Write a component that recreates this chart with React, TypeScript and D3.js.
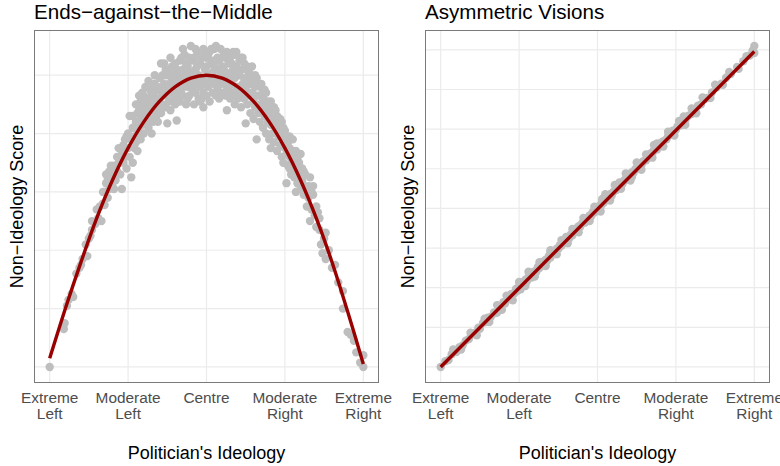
import React, { useEffect, useRef } from "react";
import * as d3 from "d3";

// ideology ticks shared by both panels
const tickValues = [-1, -0.5, 0, 0.5, 1];
const tickLabels = [
  ["Extreme", "Left"],
  ["Moderate", "Left"],
  ["Centre"],
  ["Moderate", "Right"],
  ["Extreme", "Right"],
];

// Ends-against-the-Middle: politicians (ideology, non-ideology score)
const eamPoints: [number, number][] = [
  [-1.0, 0.0], [-0.91, 0.13], [-0.905, 0.15], [-0.89, 0.21], [-0.88, 0.23], [-0.86, 0.25], [-0.85, 0.24],
  [-0.83, 0.32], [-0.81, 0.34], [-0.8, 0.35], [-0.79, 0.37], [-0.77, 0.42], [-0.76, 0.38], [-0.75, 0.44],
  [-0.74, 0.45], [-0.73, 0.47], [-0.73, 0.5], [-0.71, 0.49], [-0.7, 0.54], [-0.69, 0.51], [-0.67, 0.5],
  [-0.66, 0.56], [-0.65, 0.555], [-0.65, 0.6], [-0.64, 0.63], [-0.63, 0.58], [-0.62, 0.67], [-0.62, 0.61],
  [-0.61, 0.64], [-0.6, 0.62], [-0.6, 0.66], [-0.59, 0.69], [-0.58, 0.64], [-0.57, 0.72], [-0.57, 0.67],
  [-0.56, 0.7], [-0.55, 0.66], [-0.54, 0.61], [-0.54, 0.74], [-0.53, 0.7], [-0.52, 0.78], [-0.52, 0.72],
  [-0.51, 0.68], [-0.5, 0.75], [-0.5, 0.8], [-0.49, 0.86], [-0.49, 0.72], [-0.48, 0.65], [-0.48, 0.78],
  [-0.47, 0.82], [-0.46, 0.75], [-0.46, 0.79], [-0.45, 0.84], [-0.45, 0.77], [-0.44, 0.8], [-0.43, 0.88],
  [-0.43, 0.82], [-0.42, 0.78], [-0.42, 0.85], [-0.41, 0.94], [-0.41, 0.83], [-0.4, 0.87], [-0.4, 0.8],
  [-0.39, 0.9], [-0.39, 0.84], [-0.38, 0.86], [-0.38, 0.92], [-0.37, 0.82], [-0.37, 0.88], [-0.36, 0.95],
  [-0.36, 0.85], [-0.35, 0.9], [-0.35, 0.87], [-0.34, 0.93], [-0.34, 0.84], [-0.33, 0.97], [-0.33, 0.89],
  [-0.32, 0.91], [-0.32, 0.86], [-0.31, 0.95], [-0.31, 0.88], [-0.3, 0.92], [-0.3, 0.99], [-0.29, 1.04],
  [-0.29, 0.87], [-0.28, 0.94], [-0.28, 0.9], [-0.27, 0.97], [-0.27, 1.0], [-0.26, 0.89], [-0.26, 0.93],
  [-0.25, 0.835], [-0.25, 0.96], [-0.24, 1.01], [-0.24, 0.91], [-0.23, 0.95], [-0.23, 0.88], [-0.22, 0.98],
  [-0.22, 1.03], [-0.21, 0.92], [-0.21, 0.96], [-0.2, 0.99], [-0.2, 0.9], [-0.19, 0.845], [-0.19, 1.02],
  [-0.18, 0.94], [-0.18, 0.97], [-0.17, 1.05], [-0.17, 0.91], [-0.16, 0.99], [-0.16, 0.95], [-0.15, 1.02],
  [-0.15, 0.93], [-0.14, 0.97], [-0.14, 1.07], [-0.13, 0.9], [-0.13, 1.0], [-0.12, 0.96], [-0.12, 1.03],
  [-0.11, 0.93], [-0.11, 0.99], [-0.1, 1.1], [-0.1, 1.01], [-0.09, 0.95], [-0.09, 1.05], [-0.08, 0.9],
  [-0.08, 0.98], [-0.07, 1.02], [-0.07, 0.94], [-0.06, 1.08], [-0.06, 0.97], [-0.05, 1.0], [-0.05, 0.92],
  [-0.04, 1.04], [-0.04, 0.96], [-0.03, 0.99], [-0.03, 1.06], [-0.02, 0.89], [-0.02, 0.94], [-0.01, 1.02],
  [-0.01, 0.97], [0.0, 1.03], [0.0, 0.99], [0.0, 0.93],
  [0.01, 1.07], [0.01, 0.96], [0.02, 1.0], [0.02, 0.91], [0.03, 1.04], [0.03, 0.98], [0.04, 0.94],
  [0.04, 1.01], [0.05, 1.09], [0.05, 0.97], [0.06, 1.1], [0.06, 1.02], [0.07, 0.95], [0.07, 0.99],
  [0.08, 1.05], [0.08, 0.92], [0.09, 1.0], [0.09, 0.97], [0.1, 1.03], [0.1, 0.94], [0.11, 1.07],
  [0.11, 0.98], [0.12, 0.93], [0.12, 1.01], [0.13, 0.88], [0.13, 0.96], [0.14, 1.04], [0.14, 0.99],
  [0.15, 0.92], [0.15, 1.06], [0.16, 0.97], [0.16, 1.01], [0.17, 1.08], [0.17, 0.94], [0.18, 0.99],
  [0.18, 0.9], [0.19, 1.08], [0.19, 1.03], [0.2, 0.96], [0.2, 0.92], [0.21, 1.0], [0.21, 1.05],
  [0.22, 0.94], [0.22, 0.89], [0.23, 1.02], [0.23, 0.97], [0.24, 0.92], [0.24, 1.04], [0.25, 0.835],
  [0.25, 0.95], [0.26, 0.99], [0.26, 0.9], [0.27, 1.01], [0.27, 0.93], [0.28, 0.87], [0.28, 0.97],
  [0.29, 0.94], [0.29, 0.99], [0.3, 0.91], [0.3, 0.85], [0.31, 0.96], [0.31, 0.89], [0.32, 0.78],
  [0.32, 0.93], [0.33, 0.87], [0.33, 0.97], [0.34, 0.9], [0.34, 0.84], [0.35, 0.93], [0.35, 0.88],
  [0.36, 0.95], [0.36, 0.82], [0.37, 0.86], [0.37, 0.9], [0.38, 0.8], [0.38, 0.88], [0.39, 0.84],
  [0.39, 0.91], [0.4, 0.78], [0.4, 0.86], [0.41, 0.75], [0.41, 0.83], [0.42, 0.88], [0.42, 0.8],
  [0.43, 0.89], [0.43, 0.77], [0.44, 0.84], [0.44, 0.81], [0.45, 0.74], [0.45, 0.86], [0.46, 0.79],
  [0.46, 0.83], [0.47, 0.76], [0.47, 0.81], [0.48, 0.72], [0.48, 0.84], [0.49, 0.7], [0.49, 0.78],
  [0.5, 0.75], [0.5, 0.81], [0.51, 0.63], [0.51, 0.73], [0.52, 0.77], [0.52, 0.69], [0.53, 0.72],
  [0.53, 0.75], [0.54, 0.66], [0.54, 0.7], [0.55, 0.78], [0.55, 0.68], [0.56, 0.72], [0.56, 0.65],
  [0.57, 0.6], [0.57, 0.69], [0.58, 0.71], [0.58, 0.63], [0.59, 0.66], [0.6, 0.73], [0.6, 0.61],
  [0.61, 0.64], [0.62, 0.59], [0.62, 0.67], [0.63, 0.62], [0.64, 0.55], [0.64, 0.6], [0.65, 0.58],
  [0.66, 0.5], [0.66, 0.65], [0.67, 0.54], [0.68, 0.59], [0.68, 0.62], [0.69, 0.52], [0.7, 0.48],
  [0.71, 0.53], [0.72, 0.47], [0.73, 0.42], [0.74, 0.39], [0.75, 0.44], [0.76, 0.37], [0.76, 0.46],
  [0.78, 0.4], [0.8, 0.34], [0.82, 0.35], [0.84, 0.29], [0.87, 0.26], [0.87, 0.2], [0.9, 0.12],
  [0.92, 0.11], [0.94, 0.09], [0.955, 0.05], [0.98, 0.015], [1.0, 0.04], [1.0, 0.0],
  // denser core
  [-0.44, 0.87], [-0.42, 0.91], [-0.4, 0.93], [-0.38, 0.83], [-0.36, 0.91], [-0.34, 0.97], [-0.32, 0.95],
  [-0.3, 0.89], [-0.28, 1.0], [-0.26, 1.02], [-0.24, 0.97], [-0.22, 0.94], [-0.2, 1.04], [-0.18, 1.01],
  [-0.16, 1.06], [-0.14, 1.01], [-0.12, 0.92], [-0.1, 0.97], [-0.08, 1.06], [-0.06, 1.03], [-0.04, 0.91],
  [-0.02, 1.09], [0.0, 1.06], [0.02, 1.08], [0.04, 1.05], [0.06, 0.93], [0.08, 1.02], [0.1, 0.99],
  [0.12, 1.06], [0.14, 0.95], [0.16, 1.04], [0.18, 1.07], [0.2, 1.01], [0.22, 1.06], [0.24, 0.99],
  [0.26, 1.03], [0.28, 1.0], [0.3, 0.97], [0.32, 0.99], [0.34, 0.96], [0.36, 0.92], [0.38, 0.94],
  [0.4, 0.9], [0.42, 0.85], [0.44, 0.88], [-0.47, 0.7], [-0.44, 0.74], [-0.55, 0.72], [-0.58, 0.67],
  [0.58, 0.67], [0.53, 0.79], [0.48, 0.8], [-0.35, 0.8], [-0.31, 0.84],
  [-0.64, 0.66], [-0.61, 0.69], [-0.59, 0.61], [-0.56, 0.75], [-0.53, 0.76], [-0.51, 0.79], [-0.47, 0.86],
  [-0.45, 0.9], [-0.43, 0.93], [-0.41, 0.89], [-0.39, 0.96], [-0.37, 0.98], [-0.35, 0.94], [-0.33, 1.0],
  [-0.31, 0.92], [-0.29, 0.96], [-0.27, 1.04], [-0.25, 1.0], [-0.23, 1.06], [-0.21, 1.0], [-0.19, 0.93],
  [-0.17, 0.98], [-0.15, 1.09], [-0.13, 1.04], [-0.11, 1.06], [-0.09, 1.0], [-0.07, 1.09], [-0.05, 1.04],
  [-0.03, 0.92], [-0.01, 1.07], [0.01, 1.0], [0.03, 1.09], [0.05, 1.03], [0.07, 1.06], [0.09, 1.09],
  [0.11, 1.02], [0.13, 1.08], [0.15, 0.99], [0.17, 1.02], [0.19, 0.96], [0.21, 0.93], [0.23, 1.06],
  [0.25, 1.02], [0.27, 0.97], [0.29, 1.03], [0.31, 1.0], [0.33, 0.93], [0.35, 0.97], [0.37, 0.95],
  [0.39, 0.87], [0.41, 0.91], [0.43, 0.84], [0.45, 0.82], [0.47, 0.85], [0.49, 0.82], [0.51, 0.78],
  [0.53, 0.68], [0.55, 0.74], [0.57, 0.74], [0.59, 0.7], [0.61, 0.68], [0.63, 0.66], [0.65, 0.62],
  [0.67, 0.6], [-0.66, 0.6], [-0.68, 0.55], [-0.63, 0.64], [0.7, 0.55], [0.72, 0.51],
];

// smoothed fit
const eamFitX = [-1, -0.9, -0.8, -0.7, -0.6, -0.5, -0.4, -0.3, -0.2, -0.1, 0, 0.1, 0.2, 0.3, 0.4, 0.5, 0.6, 0.7, 0.8, 0.9, 1];
const eamFitY = [0.03, 0.2, 0.36, 0.51, 0.64, 0.75, 0.84, 0.91, 0.96, 0.99, 1.0, 0.99, 0.96, 0.91, 0.84, 0.75, 0.64, 0.51, 0.36, 0.19, 0.01];
const eamGridY = [0, 0.2, 0.4, 0.6, 0.8, 1.0];

// Asymmetric Visions
const avPoints: [number, number][] = [
  [-1.0, 0.0], [-0.97, 0.018], [-0.95, 0.022], [-0.93, 0.04], [-0.9, 0.047], [-0.88, 0.062], [-0.86, 0.068],
  [-0.84, 0.083], [-0.82, 0.088], [-0.8, 0.103], [-0.78, 0.108], [-0.76, 0.124], [-0.75, 0.12], [-0.73, 0.139],
  [-0.71, 0.142], [-0.7, 0.155], [-0.68, 0.158], [-0.66, 0.172], [-0.65, 0.17], [-0.63, 0.19], [-0.62, 0.186],
  [-0.6, 0.204], [-0.59, 0.2], [-0.57, 0.221], [-0.56, 0.214], [-0.55, 0.23], [-0.53, 0.232], [-0.52, 0.246],
  [-0.51, 0.24], [-0.5, 0.254], [-0.49, 0.262], [-0.48, 0.255], [-0.47, 0.268], [-0.46, 0.275], [-0.45, 0.27],
  [-0.44, 0.284], [-0.43, 0.29], [-0.42, 0.282], [-0.41, 0.298], [-0.4, 0.302], [-0.39, 0.3], [-0.38, 0.315],
  [-0.37, 0.312], [-0.36, 0.325], [-0.35, 0.32], [-0.34, 0.334], [-0.33, 0.338], [-0.32, 0.336], [-0.31, 0.35],
  [-0.3, 0.345], [-0.29, 0.358], [-0.28, 0.364], [-0.27, 0.362], [-0.26, 0.373], [-0.25, 0.372], [-0.24, 0.384],
  [-0.23, 0.382], [-0.22, 0.393], [-0.21, 0.398], [-0.2, 0.396], [-0.19, 0.41], [-0.18, 0.406], [-0.17, 0.418],
  [-0.16, 0.415], [-0.15, 0.43], [-0.14, 0.428], [-0.13, 0.438], [-0.12, 0.444], [-0.11, 0.442], [-0.1, 0.452],
  [-0.09, 0.458], [-0.08, 0.455], [-0.07, 0.468], [-0.06, 0.466], [-0.05, 0.478], [-0.04, 0.476], [-0.03, 0.489],
  [-0.02, 0.487], [-0.01, 0.498], [0.0, 0.5], [0.01, 0.508], [0.02, 0.505], [0.03, 0.52], [0.04, 0.518],
  [0.05, 0.528], [0.06, 0.532], [0.07, 0.531], [0.08, 0.545], [0.09, 0.54], [0.1, 0.552], [0.11, 0.556],
  [0.12, 0.558], [0.13, 0.568], [0.14, 0.566], [0.15, 0.58], [0.16, 0.578], [0.17, 0.588], [0.18, 0.594],
  [0.19, 0.592], [0.2, 0.603], [0.21, 0.602], [0.22, 0.614], [0.23, 0.612], [0.24, 0.623], [0.25, 0.628],
  [0.26, 0.626], [0.27, 0.638], [0.28, 0.636], [0.29, 0.648], [0.3, 0.65], [0.31, 0.652], [0.32, 0.665],
  [0.33, 0.662], [0.34, 0.674], [0.35, 0.672], [0.36, 0.684], [0.37, 0.688], [0.38, 0.686], [0.39, 0.698],
  [0.4, 0.696], [0.41, 0.708], [0.42, 0.712], [0.44, 0.718], [0.45, 0.728], [0.47, 0.732], [0.48, 0.745],
  [0.5, 0.748], [0.51, 0.758], [0.53, 0.762], [0.54, 0.775], [0.56, 0.778], [0.58, 0.792], [0.6, 0.798],
  [0.62, 0.808], [0.64, 0.824], [0.66, 0.828], [0.68, 0.844], [0.7, 0.848], [0.73, 0.866], [0.76, 0.882],
  [0.79, 0.893], [0.82, 0.912], [0.85, 0.924], [0.89, 0.946], [0.93, 0.964], [0.97, 0.982], [0.99, 0.998],
  [1.0, 0.99], [1.0, 1.012],
  [-0.49, 0.245], [-0.3, 0.362], [0.03, 0.53], [0.14, 0.582], [0.36, 0.7], [0.55, 0.79], [-0.64, 0.172],
  [-0.2, 0.41], [0.22, 0.6], [0.46, 0.74],
  [-0.92, 0.055], [-0.87, 0.055], [-0.81, 0.108], [-0.77, 0.1], [-0.72, 0.152], [-0.69, 0.142], [-0.64, 0.195],
  [-0.61, 0.18], [-0.58, 0.225], [-0.54, 0.21], [-0.5, 0.268], [-0.46, 0.255], [-0.44, 0.3], [-0.4, 0.285],
  [-0.37, 0.33], [-0.33, 0.318], [-0.3, 0.368], [-0.26, 0.355], [-0.23, 0.4], [-0.19, 0.39], [-0.16, 0.435],
  [-0.12, 0.425], [-0.09, 0.47], [-0.05, 0.46], [-0.02, 0.505], [0.02, 0.49], [0.05, 0.545], [0.08, 0.525],
  [0.11, 0.574], [0.15, 0.562], [0.18, 0.61], [0.21, 0.588], [0.25, 0.645], [0.28, 0.622], [0.31, 0.67],
  [0.35, 0.66], [0.38, 0.705], [0.42, 0.695], [0.45, 0.742], [0.49, 0.73], [0.52, 0.776], [0.56, 0.764],
  [0.6, 0.815], [0.63, 0.8], [0.67, 0.85], [0.72, 0.848], [0.75, 0.89], [0.8, 0.89], [0.84, 0.93],
  [0.9, 0.94], [0.95, 0.98],
];
const avFitX = [-1, 1];
const avFitY = [0.0, 0.995];
const avGridY = [0, 0.125, 0.25, 0.375, 0.5, 0.625, 0.75, 0.875, 1.0];

const W = 780;
const H = 466;
const FONT = "'Liberation Sans', Arial, sans-serif";

const drawPanel = (
  root: d3.Selection<SVGGElement, unknown, null, undefined>,
  left: number,
  title: string,
  points: [number, number][],
  fitX: number[],
  fitY: number[],
  gridY: number[]
) => {
  const top = 30;
  const bottom = 383;
  const pw = 345;

  const xExt = d3.extent(points, (d) => d[0]) as [number, number];
  const yExt = d3.extent(points, (d) => d[1]) as [number, number];
  const xPad = (xExt[1] - xExt[0]) * 0.05;
  const yPad = (yExt[1] - yExt[0]) * 0.05;
  const x = d3.scaleLinear().domain([xExt[0] - xPad, xExt[1] + xPad]).range([left, left + pw]);
  const y = d3.scaleLinear().domain([yExt[0] - yPad, yExt[1] + yPad]).range([bottom, top]);

  const g = root.append("g");

  // grid
  g.selectAll(".gx")
    .data(tickValues)
    .enter()
    .append("line")
    .attr("x1", (d) => x(d))
    .attr("x2", (d) => x(d))
    .attr("y1", top)
    .attr("y2", bottom)
    .attr("stroke", "#ebebeb")
    .attr("stroke-width", 1.2);
  g.selectAll(".gy")
    .data(gridY)
    .enter()
    .append("line")
    .attr("x1", left)
    .attr("x2", left + pw)
    .attr("y1", (d) => y(d))
    .attr("y2", (d) => y(d))
    .attr("stroke", "#ebebeb")
    .attr("stroke-width", 1.2);

  // points
  g.selectAll("circle")
    .data(points)
    .enter()
    .append("circle")
    .attr("cx", (d) => x(d[0]))
    .attr("cy", (d) => y(d[1]))
    .attr("r", 4.2)
    .attr("fill", "#bebebe");

  // fitted line
  const line = d3
    .line<number>()
    .x((d, i) => x(fitX[i]))
    .y((d) => y(d))
    .curve(d3.curveCatmullRom);
  g.append("path")
    .attr("d", line(fitY))
    .attr("fill", "none")
    .attr("stroke", "#990000")
    .attr("stroke-width", 3.4);

  // border
  g.append("rect")
    .attr("x", left + 0.5)
    .attr("y", top + 0.5)
    .attr("width", pw - 1)
    .attr("height", bottom - top - 1)
    .attr("fill", "none")
    .attr("stroke", "#7a7a7a")
    .attr("stroke-width", 1);

  // tick labels
  const tl = g
    .selectAll(".tl")
    .data(tickValues)
    .enter()
    .append("text")
    .attr("text-anchor", "middle")
    .style("font-family", FONT)
    .style("font-size", "15.4px")
    .attr("fill", "#4d4d4d");
  tl.each(function (d, i) {
    const t = d3.select(this);
    tickLabels[i].forEach((s, k) => {
      t.append("tspan")
        .attr("x", x(d))
        .attr("y", 403 + k * 15.5)
        .text(s);
    });
  });

  // axis titles
  g.append("text")
    .attr("x", left + pw / 2)
    .attr("y", 459)
    .attr("text-anchor", "middle")
    .style("font-family", FONT)
    .style("font-size", "18px")
    .attr("fill", "#000")
    .text("Politician's Ideology");

  g.append("text")
    .attr("transform", `translate(${left - 11},${(top + bottom) / 2}) rotate(-90)`)
    .attr("text-anchor", "middle")
    .style("font-family", FONT)
    .style("font-size", "18px")
    .attr("fill", "#000")
    .text("Non\u2212Ideology Score");

  g.append("text")
    .attr("x", left)
    .attr("y", 18.7)
    .style("font-family", FONT)
    .style("font-size", "20.6px")
    .attr("fill", "#000")
    .text(title);
};

const App = () => {
  const ref = useRef<SVGSVGElement>(null);

  useEffect(() => {
    const svg = d3.select(ref.current);
    svg.selectAll("*").remove();
    const root = svg.append("g");
    drawPanel(root, 34, "Ends\u2212against\u2212the\u2212Middle", eamPoints, eamFitX, eamFitY, eamGridY);
    drawPanel(root, 425, "Asymmetric Visions", avPoints, avFitX, avFitY, avGridY);
  }, []);

  return (
    <svg
      ref={ref}
      width={W}
      height={H}
      style={{ position: "absolute", left: 0, top: 0, background: "#fff" }}
    />
  );
};

export default App;
